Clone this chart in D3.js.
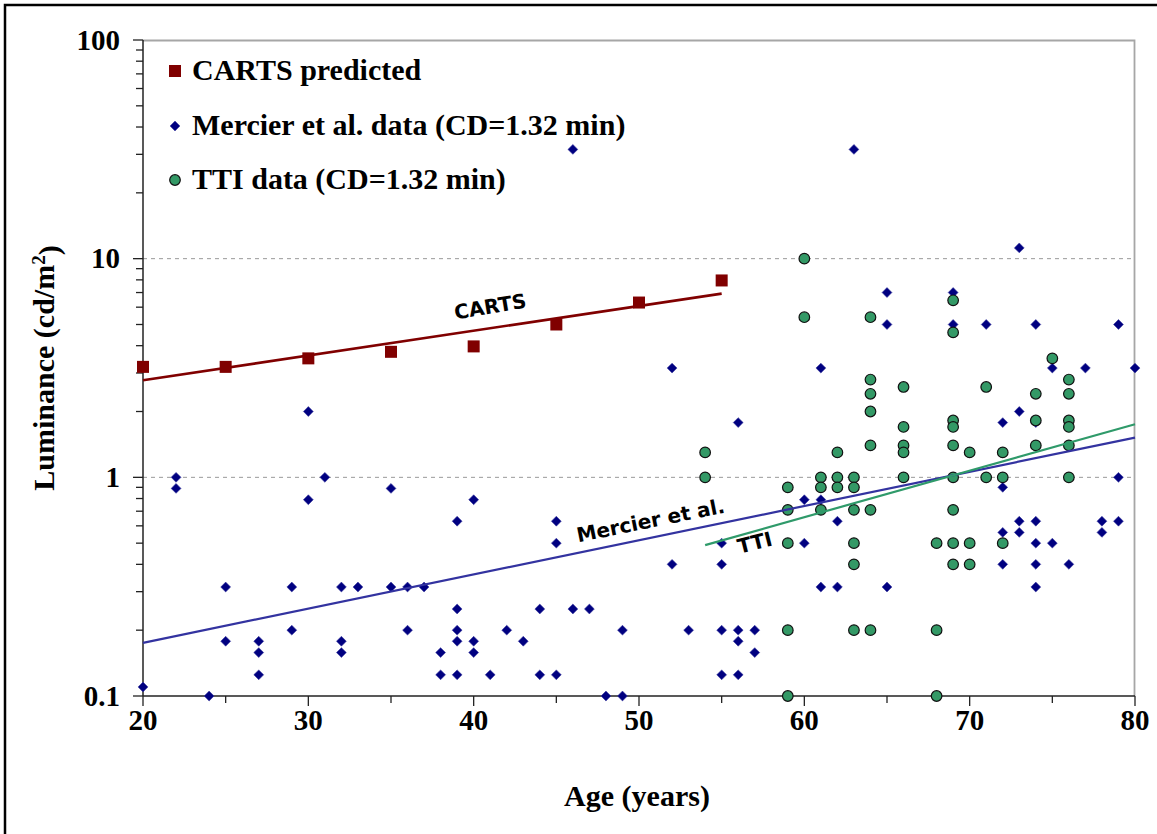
<!DOCTYPE html>
<html>
<head>
<meta charset="utf-8">
<script src="https://cdn.jsdelivr.net/npm/d3@7"></script>
<style>
  html, body { margin: 0; padding: 0; background: #fff; }
  svg { display: block; }
</style>
</head>
<body>
<script>
// CARTS predicted thresholds
var cartsAge = [20, 25, 30, 35, 40, 45, 50, 55];
var cartsLum = [3.2, 3.2, 3.5, 3.75, 3.97, 5.0, 6.3, 7.95];

// Mercier et al. data (age, luminance)
var mercierAge = [20, 22, 22, 24, 25, 25, 27, 27, 27, 29, 29, 30, 30, 31, 32, 32, 32, 33, 35, 35,
  36, 36, 37, 38, 38, 39, 39, 39, 39, 39, 40, 40, 40, 41, 42, 43, 44, 44, 45, 45, 45, 46, 46, 47,
  48, 49, 49, 52, 52, 53, 55, 55, 55, 55, 56, 56, 56, 56, 57, 57, 60, 60, 61, 61, 61, 62, 62, 63, 63,
  65, 65, 65, 69, 69, 71, 72, 72, 72, 72, 73, 73, 73, 73, 74, 74, 74, 74, 74, 74, 75, 75, 76, 77,
  78, 78, 79, 79, 79, 80];
var mercierLum = [0.11, 1.0, 0.89, 0.1, 0.315, 0.178, 0.178, 0.158, 0.125, 0.315, 0.2, 2.0, 0.79, 1.0,
  0.315, 0.178, 0.158, 0.315, 0.89, 0.315, 0.315, 0.2, 0.315, 0.158, 0.125, 0.63, 0.25, 0.2, 0.178, 0.125,
  0.79, 0.178, 0.158, 0.125, 0.2, 0.178, 0.25, 0.125, 0.63, 0.5, 0.125, 31.6, 0.25, 0.25,
  0.1, 0.2, 0.1, 3.16, 0.4, 0.2, 0.5, 0.4, 0.2, 0.125, 1.78, 0.2, 0.178, 0.125, 0.2, 0.158, 0.79, 0.5,
  3.16, 0.79, 0.315, 0.63, 0.315, 31.6, 0.9, 7.0, 5.0, 0.315, 7.0, 5.0, 5.0, 1.78, 0.9, 0.56, 0.4,
  11.2, 2.0, 0.63, 0.56, 5.0, 1.78, 0.63, 0.5, 0.4, 0.315, 3.16, 0.5, 0.4, 3.16,
  0.63, 0.56, 5.0, 1.0, 0.63, 3.16];

// TTI data (age, luminance)
var ttiAge = [54, 54, 59, 59, 59, 59, 59, 60, 60, 61, 61, 61, 62, 62, 62, 63, 63, 63, 63, 63, 63,
  64, 64, 64, 64, 64, 64, 64, 66, 66, 66, 66, 66, 68, 68, 68, 69, 69, 69, 69, 69, 69, 69, 69, 69,
  70, 70, 70, 71, 71, 72, 72, 72, 74, 74, 74, 75, 76, 76, 76, 76, 76, 76];
var ttiLum = [1.3, 1.0, 0.9, 0.71, 0.5, 0.2, 0.1, 10, 5.4, 1.0, 0.9, 0.71, 1.3, 1.0, 0.9, 1.0, 0.9, 0.71, 0.5, 0.4, 0.2,
  5.4, 2.8, 2.41, 2.0, 1.4, 0.71, 0.2, 2.59, 1.7, 1.4, 1.3, 1.0, 0.5, 0.2, 0.1, 6.45, 4.6, 1.82, 1.7, 1.4, 1.0, 0.71, 0.5, 0.4,
  1.3, 0.5, 0.4, 2.59, 1.0, 1.3, 1.0, 0.5, 2.41, 1.82, 1.4, 3.5, 2.8, 2.41, 1.82, 1.7, 1.4, 1.0];

// trend line end points
var cartsTrend = [[20, 2.78], [55, 6.92]];
var mercierTrend = [[20, 0.175], [80, 1.52]];
var ttiTrend = [[54, 0.49], [80, 1.75]];

var xTicks = [20, 30, 40, 50, 60, 70, 80];
var yTicks = [0.1, 1, 10, 100];
var yTickLabels = ["0.1", "1", "10", "100"];
var legendLabels = ["CARTS predicted", "Mercier et al. data (CD=1.32 min)", "TTI data (CD=1.32 min)"];

var W = 1157, H = 834;
var margin = { top: 40, right: 22, bottom: 138, left: 143 };
var width = W - margin.left - margin.right,   // 992
    height = H - margin.top - margin.bottom;  // 656

var serif = "'Liberation Serif', 'Times New Roman', serif";
var sans = "'DejaVu Sans', Verdana, sans-serif";

var svg = d3.select("body").append("svg")
  .attr("width", W)
  .attr("height", H);

// outer frame (only top/left visible in the picture)
svg.append("path")
  .attr("d", "M5," + H + "V5H" + W)
  .attr("fill", "none")
  .attr("stroke", "#000")
  .attr("stroke-width", 2.5);

var g = svg.append("g")
  .attr("transform", "translate(" + margin.left + "," + margin.top + ")");

var x = d3.scaleLinear().domain([20, 80]).range([0, width]);
var y = d3.scaleLog().domain([0.1, 100]).range([height, 0]);

// gridlines at 1 and 10
g.selectAll(".grid")
  .data([1, 10])
  .enter().append("line")
  .attr("x1", 0).attr("x2", width)
  .attr("y1", function(d) { return y(d); })
  .attr("y2", function(d) { return y(d); })
  .attr("stroke", "#999")
  .attr("stroke-width", 1)
  .attr("stroke-dasharray", "4,4");

// top/right border of the plot area
g.append("path")
  .attr("d", "M0,0.5H" + (width - 0.5) + "V" + height)
  .attr("fill", "none")
  .attr("stroke", "#a6a6a6")
  .attr("stroke-width", 1.8);

// y axis with minor ticks
var minorY = [];
[0.1, 1, 10].forEach(function(dec) {
  for (var k = 2; k <= 9; k++) minorY.push(dec * k);
});
var yAxis = g.append("g").attr("class", "y axis");
yAxis.append("line")
  .attr("x1", 0).attr("x2", 0).attr("y1", 0).attr("y2", height)
  .attr("stroke", "#222").attr("stroke-width", 1.5);
yAxis.selectAll(".ymaj")
  .data(yTicks)
  .enter().append("line")
  .attr("x1", -10).attr("x2", 0)
  .attr("y1", function(d) { return y(d); })
  .attr("y2", function(d) { return y(d); })
  .attr("stroke", "#222").attr("stroke-width", 1.3);
yAxis.selectAll(".ymin")
  .data(minorY)
  .enter().append("line")
  .attr("x1", -7).attr("x2", 0)
  .attr("y1", function(d) { return y(d); })
  .attr("y2", function(d) { return y(d); })
  .attr("stroke", "#222").attr("stroke-width", 1.3);
yAxis.selectAll(".ylab")
  .data(yTicks)
  .enter().append("text")
  .attr("x", -23)
  .attr("y", function(d) { return y(d); })
  .attr("dy", "0.33em")
  .attr("text-anchor", "end")
  .style("font-family", serif)
  .style("font-weight", "bold")
  .style("font-size", "29px")
  .text(function(d, i) { return yTickLabels[i]; });

// x axis with minor ticks every 5 years
var xAxis = g.append("g").attr("class", "x axis")
  .attr("transform", "translate(0," + height + ")");
xAxis.append("line")
  .attr("x1", 0).attr("x2", width)
  .attr("stroke", "#222").attr("stroke-width", 1.5);
xAxis.selectAll(".xt")
  .data(d3.range(20, 81, 5))
  .enter().append("line")
  .attr("x1", function(d) { return x(d); })
  .attr("x2", function(d) { return x(d); })
  .attr("y1", 0)
  .attr("y2", function(d) { return d % 10 === 0 ? 10 : 7; })
  .attr("stroke", "#222").attr("stroke-width", 1.3);
xAxis.selectAll(".xlab")
  .data(xTicks)
  .enter().append("text")
  .attr("x", function(d) { return x(d); })
  .attr("y", 34)
  .attr("text-anchor", "middle")
  .style("font-family", serif)
  .style("font-weight", "bold")
  .style("font-size", "29px")
  .text(function(d) { return d; });

// axis titles
svg.append("text")
  .attr("x", 637)
  .attr("y", 806)
  .attr("text-anchor", "middle")
  .style("font-family", serif)
  .style("font-weight", "bold")
  .style("font-size", "30px")
  .text("Age (years)");

var ylab = svg.append("text")
  .attr("transform", "translate(54,368) rotate(-90)")
  .attr("text-anchor", "middle")
  .style("font-family", serif)
  .style("font-weight", "bold")
  .style("font-size", "30px");
ylab.append("tspan").text("Luminance (cd/m");
ylab.append("tspan").attr("dy", "-0.45em").style("font-size", "19px").text("2");
ylab.append("tspan").attr("dy", "0.45em").text(")");

// points
var cartsPts = cartsAge.map(function(a, i) { return { age: a, lum: cartsLum[i] }; });
var mercierPts = mercierAge.map(function(a, i) { return { age: a, lum: mercierLum[i] }; });
var ttiPts = ttiAge.map(function(a, i) { return { age: a, lum: ttiLum[i] }; });

var sq = 12;
g.selectAll(".carts")
  .data(cartsPts)
  .enter().append("rect")
  .attr("x", function(d) { return x(d.age) - sq / 2; })
  .attr("y", function(d) { return y(d.lum) - sq / 2; })
  .attr("width", sq).attr("height", sq)
  .attr("fill", "#800000");

var diamond = d3.symbol().type(d3.symbolDiamond2).size(62);
g.selectAll(".mercier")
  .data(mercierPts)
  .enter().append("path")
  .attr("d", diamond)
  .attr("transform", function(d) { return "translate(" + x(d.age) + "," + y(d.lum) + ")"; })
  .attr("fill", "#000080")
  .attr("stroke", "#3b3ba0")
  .attr("stroke-width", 0.6);

g.selectAll(".tti")
  .data(ttiPts)
  .enter().append("circle")
  .attr("cx", function(d) { return x(d.age); })
  .attr("cy", function(d) { return y(d.lum); })
  .attr("r", 5.3)
  .attr("fill", "#339966")
  .attr("stroke", "#111")
  .attr("stroke-width", 1.2);

// trend lines
var line = d3.line()
  .x(function(d) { return x(d[0]); })
  .y(function(d) { return y(d[1]); });

g.append("path").datum(cartsTrend).attr("d", line)
  .attr("stroke", "#800000").attr("stroke-width", 2.6).attr("fill", "none");
g.append("path").datum(mercierTrend).attr("d", line)
  .attr("stroke", "#3333a0").attr("stroke-width", 2.2).attr("fill", "none");
g.append("path").datum(ttiTrend).attr("d", line)
  .attr("stroke", "#2f9a6a").attr("stroke-width", 2.2).attr("fill", "none");

// trend labels
var trendLabels = [
  { text: "CARTS", age: 41.0, lum: 6.05, angle: -9.5 },
  { text: "Mercier et al.", age: 50.7, lum: 0.636, angle: -11.5 },
  { text: "TTI", age: 57.0, lum: 0.504, angle: -14 }
];
g.selectAll(".tlab")
  .data(trendLabels)
  .enter().append("text")
  .attr("transform", function(d) {
    return "translate(" + x(d.age) + "," + y(d.lum) + ") rotate(" + d.angle + ")";
  })
  .attr("text-anchor", "middle")
  .attr("dy", "0.36em")
  .style("font-family", sans)
  .style("font-weight", "bold")
  .style("font-size", "20px")
  .text(function(d) { return d.text; });

// legend
var legend = svg.append("g").attr("transform", "translate(175,0)");
var rowsY = [71, 126, 180];
legend.append("rect")
  .attr("x", -6).attr("y", rowsY[0] - 6).attr("width", 12).attr("height", 12)
  .attr("fill", "#800000");
legend.append("path")
  .attr("d", diamond)
  .attr("transform", "translate(0," + rowsY[1] + ")")
  .attr("fill", "#000080").attr("stroke", "#3b3ba0").attr("stroke-width", 0.6);
legend.append("circle")
  .attr("cx", 0).attr("cy", rowsY[2]).attr("r", 5.3)
  .attr("fill", "#339966").attr("stroke", "#111").attr("stroke-width", 1.2);
legend.selectAll(".ltxt")
  .data(legendLabels)
  .enter().append("text")
  .attr("x", 17)
  .attr("y", function(d, i) { return rowsY[i] + 9; })
  .style("font-family", serif)
  .style("font-weight", "bold")
  .style("font-size", "30px")
  .text(function(d) { return d; });
</script>
</body>
</html>
